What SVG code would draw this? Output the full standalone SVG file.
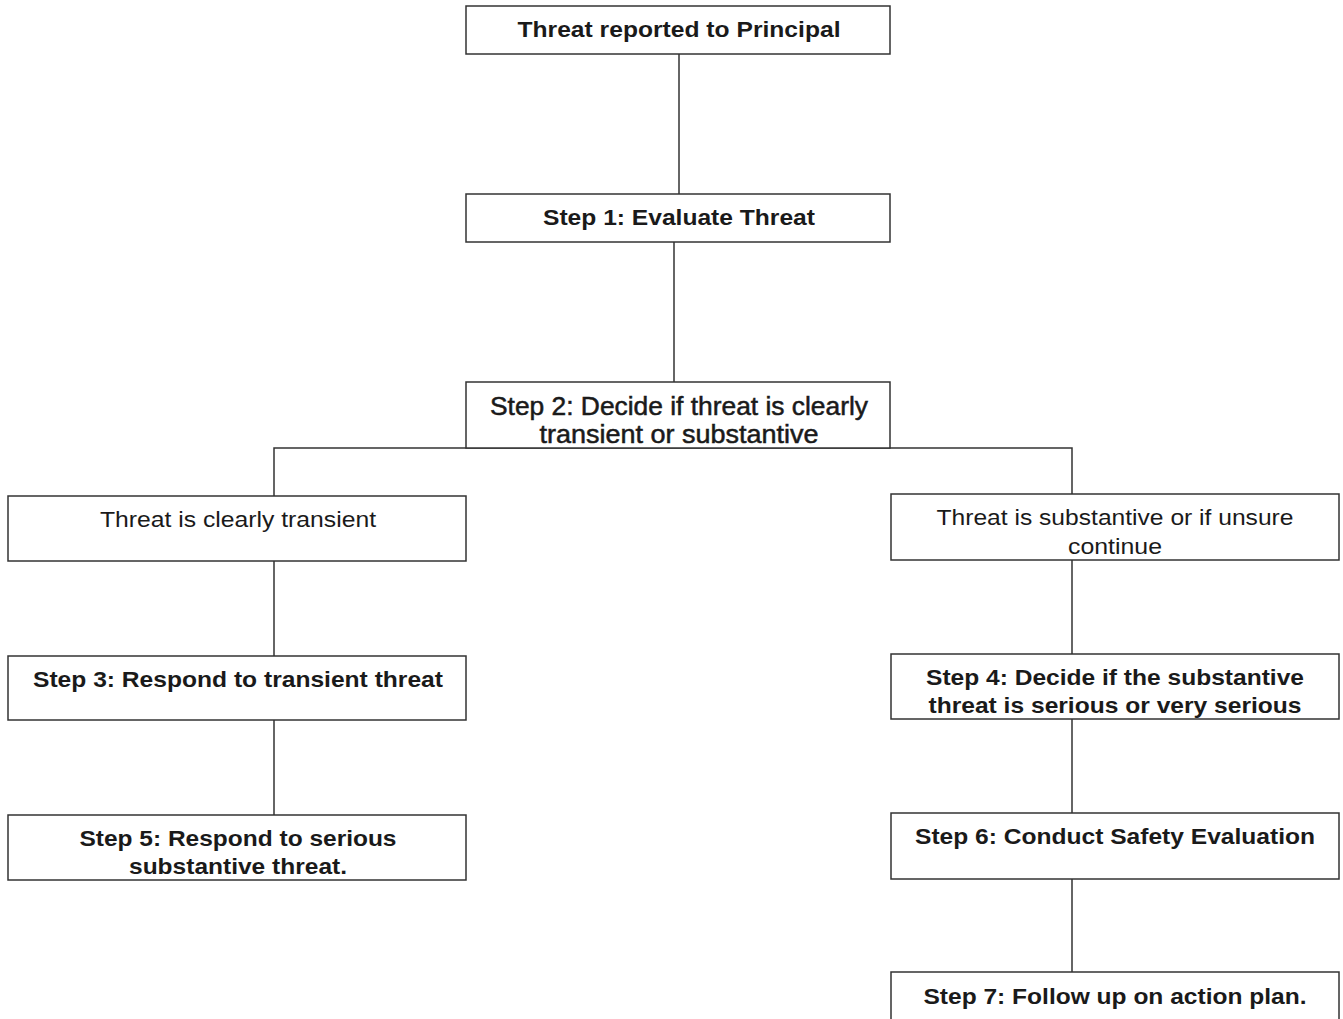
<svg xmlns="http://www.w3.org/2000/svg" width="1343" height="1019" viewBox="0 0 1343 1019">
<style>
.box{fill:#fff;stroke:#333;stroke-width:1.5}
.b{font-family:"Liberation Sans",Arial,sans-serif;font-weight:bold;font-size:22px;fill:#1a1a1a;text-anchor:middle}
.n{font-family:"Liberation Sans",Arial,sans-serif;font-size:25px;fill:#1a1a1a;text-anchor:middle;stroke:#1a1a1a;stroke-width:0.5}
.r{font-family:"Liberation Sans",Arial,sans-serif;font-size:22px;fill:#1a1a1a;text-anchor:middle}
.c{fill:none;stroke:#333;stroke-width:1.5}
</style>
<rect width="1343" height="1019" fill="#fff"/>
<g id="connectors">
<line class="c" x1="679" y1="54" x2="679" y2="194"/>
<line class="c" x1="674" y1="242" x2="674" y2="382"/>
<polyline class="c" points="274,496 274,448 1072,448 1072,494"/>
<line class="c" x1="274" y1="561" x2="274" y2="656"/>
<line class="c" x1="274" y1="720" x2="274" y2="815"/>
<line class="c" x1="1072" y1="560" x2="1072" y2="654"/>
<line class="c" x1="1072" y1="719" x2="1072" y2="813"/>
<line class="c" x1="1072" y1="879" x2="1072" y2="972"/>
</g>
<g id="n0"><rect class="box" x="466" y="6" width="424" height="48"/><text class="b" x="679" y="37" textLength="323" lengthAdjust="spacingAndGlyphs">Threat reported to Principal</text></g>
<g id="n1"><rect class="box" x="466" y="194" width="424" height="48"/><text class="b" x="679" y="225" textLength="272" lengthAdjust="spacingAndGlyphs">Step 1: Evaluate Threat</text></g>
<g id="n2"><rect class="box" x="466" y="382" width="424" height="66"/><text class="n" x="679" y="415" textLength="378" lengthAdjust="spacingAndGlyphs">Step 2: Decide if threat is clearly</text><text class="n" x="679" y="443" textLength="279" lengthAdjust="spacingAndGlyphs">transient or substantive</text></g>
<g id="n3"><rect class="box" x="8" y="496" width="458" height="65"/><text class="r" x="238" y="527" textLength="276" lengthAdjust="spacingAndGlyphs">Threat is clearly transient</text></g>
<g id="n4"><rect class="box" x="891" y="494" width="448" height="66"/><text class="r" x="1115" y="525" textLength="357" lengthAdjust="spacingAndGlyphs">Threat is substantive or if unsure</text><text class="r" x="1115" y="554" textLength="94" lengthAdjust="spacingAndGlyphs">continue</text></g>
<g id="n5"><rect class="box" x="8" y="656" width="458" height="64"/><text class="b" x="238" y="687" textLength="410" lengthAdjust="spacingAndGlyphs">Step 3: Respond to transient threat</text></g>
<g id="n6"><rect class="box" x="891" y="654" width="448" height="65"/><text class="b" x="1115" y="685" textLength="378" lengthAdjust="spacingAndGlyphs">Step 4: Decide if the substantive</text><text class="b" x="1115" y="713" textLength="373" lengthAdjust="spacingAndGlyphs">threat is serious or very serious</text></g>
<g id="n7"><rect class="box" x="8" y="815" width="458" height="65"/><text class="b" x="238" y="846" textLength="317" lengthAdjust="spacingAndGlyphs">Step 5: Respond to serious</text><text class="b" x="238" y="874" textLength="218" lengthAdjust="spacingAndGlyphs">substantive threat.</text></g>
<g id="n8"><rect class="box" x="891" y="813" width="448" height="66"/><text class="b" x="1115" y="844" textLength="400" lengthAdjust="spacingAndGlyphs">Step 6: Conduct Safety Evaluation</text></g>
<g id="n9"><rect class="box" x="891" y="972" width="448" height="60"/><text class="b" x="1115" y="1004" textLength="383" lengthAdjust="spacingAndGlyphs">Step 7: Follow up on action plan.</text></g>
</svg>
